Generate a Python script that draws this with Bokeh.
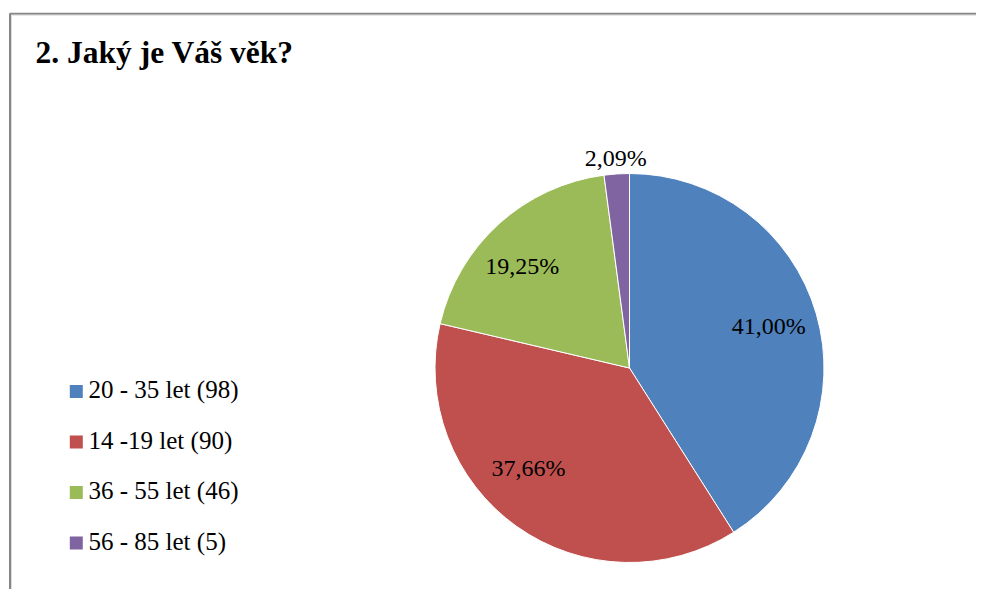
import numpy as np
from bokeh.plotting import figure
from bokeh.models import Range1d, ColumnDataSource
from bokeh.core.properties import value
from bokeh.embed import file_html
from bokeh.resources import INLINE

# ---- data ----
title_text = "2. Jaký je Váš věk?"
categories = ["20 - 35 let (98)", "14 -19 let (90)", "36 - 55 let (46)", "56 - 85 let (5)"]
counts = [98, 90, 46, 5]
colors = ["#4F81BD", "#C0504D", "#9BBB59", "#8064A2"]

# ---- layout (screen px, y measured downward -> stored negative) ----
W, H = 976, 589
cx, cy, R = 629.0, 367.5, 194.5
FONT = "Liberation Serif"
SHIFT = 0.4  # empirical baseline correction (in em)

p = figure(width=W, height=H, output_backend="svg", toolbar_location=None,
           x_range=Range1d(0, W), y_range=Range1d(-H, 0),
           min_border=0, outline_line_color=None)
p.axis.visible = False
p.grid.visible = False
p.background_fill_color = "white"
p.border_fill_color = "white"

# chart area border
p.quad(left=[9.5], right=[1200], top=[-13.2], bottom=[-800],
       fill_color=None, line_color="#868686", line_width=2)
p.quad(left=[11], right=[1200], top=[-14.7], bottom=[-800],
       fill_color=None, line_color="#dcdcdc", line_width=1)

# title
tsize = 31.5
p.text(x=[35], y=[-(65 - SHIFT * tsize)], text=[title_text], text_font=value(FONT),
       text_font_size=f"{tsize}px", text_font_style="bold",
       text_color="black", text_align="left", text_baseline="alphabetic")

# pie
vals = np.array(counts, dtype=float)
frac = vals / vals.sum()
cum = np.concatenate([[0.0], np.cumsum(frac)])
start = np.pi / 2 - cum[1:] * 2 * np.pi
end = np.pi / 2 - cum[:-1] * 2 * np.pi
src = ColumnDataSource(dict(start=start, end=end, color=colors))
p.wedge(x=cx, y=-cy, radius=R, start_angle="start", end_angle="end",
        fill_color="color", line_color="white", line_width=1, source=src)

# data labels
lsize = 24
mid = (cum[:-1] + cum[1:]) / 2 * 2 * np.pi  # clockwise from top
label_r = np.array([0.745, 0.745, 0.745, 1.075]) * R
nudge_x = [0, -17, -10, 0]
nudge_y = [0, -17, 6, 0]
lx = cx + label_r * np.sin(mid) + np.array(nudge_x)
ly = cy - label_r * np.cos(mid) + np.array(nudge_y)
labels = [f"{v * 100:.2f}%".replace(".", ",") for v in frac]
p.text(x=lx, y=-(ly + 8.5 - SHIFT * lsize), text=labels, text_font=value(FONT),
       text_font_size=f"{lsize}px", text_color="black",
       text_align="center", text_baseline="alphabetic")

# legend
gsize = 25
base0, step = 399.0, 50.5
rows = base0 + step * np.arange(len(categories))
p.rect(x=[75.8] * len(categories), y=-(rows - 8), width=13, height=13,
       fill_color=colors, line_color=None)
p.text(x=[88] * len(categories), y=-(rows - SHIFT * gsize), text=categories,
       text_font=value(FONT),
       text_font_size=f"{gsize}px", text_color="black",
       text_align="left", text_baseline="alphabetic")

open("out.html", "w").write(file_html(p, INLINE))
